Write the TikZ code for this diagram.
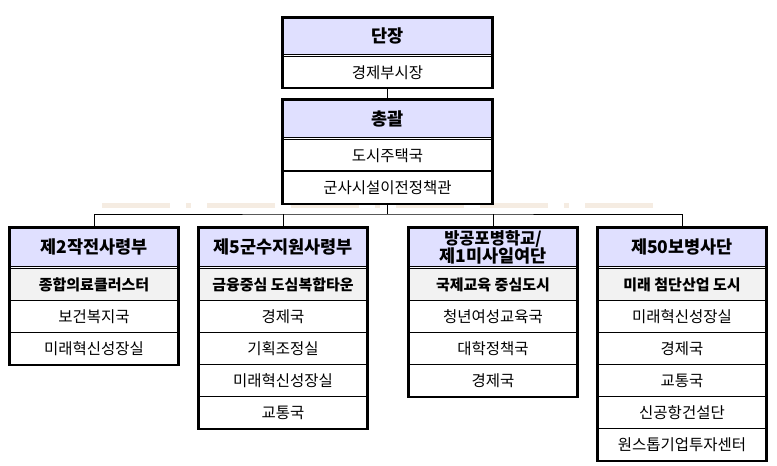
\documentclass[tikz,border=0pt]{standalone}
\usepackage{fontspec}
\setmainfont{Noto Sans CJK KR}
\begin{document}
\begin{tikzpicture}[x=1pt,y=-1pt,
 cell/.style={draw=black,line width=0.8pt,minimum width=168,minimum height=32,inner sep=0,font=\fontsize{15.5}{16}\selectfont},
 hdr/.style={cell,fill=blue!12!white,font=\bfseries\fontsize{17.5}{18}\selectfont,align=center},
 sub/.style={cell,fill=black!5,font=\bfseries\fontsize{15}{16}\selectfont},
 outer/.style={line width=2.4pt},
 conn/.style={line width=0.8pt},
 deco/.style={fill=brown!15!white,draw=none}]
\useasboundingbox (0,0) rectangle (777,466);
% beige dashes
\foreach \a in {102,291,480}{\fill[deco] (\a,203) rectangle ++(68,5);}
\foreach \a in {207,396,585}{\fill[deco] (\a,203) rectangle ++(68,5);}
\foreach \a in {186,375,564}{\fill[deco] (\a,203) rectangle ++(5,5);}
% top
\node[hdr,minimum width=209,minimum height=36] (th) at (387.5,36) {단장};
\node[cell,minimum width=209,minimum height=31,anchor=north] (t1) at ([yshift=-2]th.south) {경제부시장};
\draw[outer] (th.north west) rectangle (t1.south east);
\node[hdr,minimum width=209,minimum height=37] (sh) at (387.5,118.5) {총괄};
\node[cell,minimum width=209,minimum height=31,anchor=north] (s1) at ([yshift=-2]sh.south) {도시주택국};
\node[cell,minimum width=209,minimum height=32,anchor=north] (s2) at (s1.south) {군사시설이전정책관};
\draw[outer] (sh.north west) rectangle (s2.south east);
% columns
\newcommand{\orgcol}[5]{%
 \node[hdr,minimum height=38] (#1h) at (#2,247) {#3};
 \node[sub,minimum height=32,anchor=north] (#1s) at ([yshift=-2]#1h.south) {#4};
 \foreach \t [count=\i] in {#5}{\node[cell,anchor=north] (#1r\i) at (#2,{300+32*(\i-1)}) {\t};}
}
\orgcol{a}{94}{제2작전사령부}{종합의료클러스터}{보건복지국,미래혁신성장실}
\draw[outer] (ah.north west) rectangle (ar2.south east);
\orgcol{b}{283}{제5군수지원사령부}{금융중심 도심복합타운}{경제국,기획조정실,미래혁신성장실,교통국}
\draw[outer] (bh.north west) rectangle (br4.south east);
\orgcol{c}{493}{\fontsize{16.5}{16.5}\selectfont 방공포병학교/\\제1미사일여단}{국제교육 중심도시}{청년여성교육국,대학정책국,경제국}
\draw[outer] (ch.north west) rectangle (cr3.south east);
\orgcol{d}{682}{제50보병사단}{미래 첨단산업 도시}{미래혁신성장실,경제국,교통국,신공항건설단,원스톱기업투자센터}
\draw[outer] (dh.north west) rectangle (dr5.south east);
\foreach \n in {a,b,c,d}{\draw[line width=0.6pt] ([yshift=-2]\n h.south west) -- ([yshift=-2]\n h.south east);}
\draw[line width=0.6pt] ([yshift=-2]th.south west) -- ([yshift=-2]th.south east);
\draw[line width=0.6pt] ([yshift=-2]sh.south west) -- ([yshift=-2]sh.south east);
% connectors
\coordinate (bus) at (387.5,214);
\draw[conn] (t1.south) -- (sh.north);
\draw[conn] (s2.south) -- (bus);
\draw[conn] (ah.north) |- (bus) -| (dh.north);
\draw[conn] (bh.north) -- (bh.north |- bus);
\draw[conn] (ch.north) -- (ch.north |- bus);
\end{tikzpicture}
\end{document}
